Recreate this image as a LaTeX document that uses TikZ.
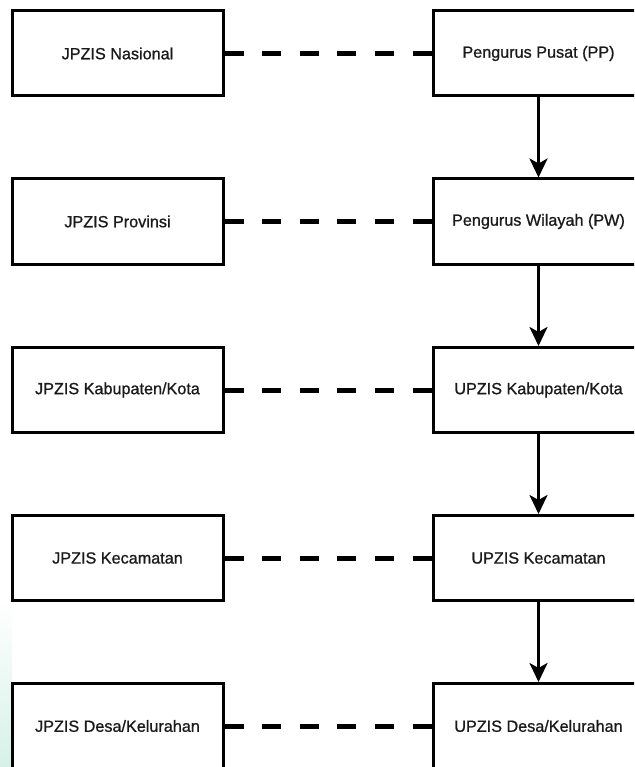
\documentclass[tikz,border=0pt]{standalone}
\usepackage{fontspec}
\setmainfont{Liberation Sans}
\newfontfamily\boxfont[FakeBold=0.9]{Liberation Sans}
\usetikzlibrary{arrows.meta}
\definecolor{txt}{HTML}{1A1A1A}
\definecolor{wmyellow}{HTML}{FAF6D2}
\definecolor{wmcyan}{HTML}{D6F1E8}
\tikzset{
  orgbox/.style={draw=black, fill=white, line width=3pt, rectangle,
    minimum width=211pt, minimum height=85pt, inner sep=0pt,
    text=txt, font=\boxfont\fontsize{16.2}{19}\selectfont},
  dashlink/.style={draw=black, line width=5pt, dash pattern=on 19pt off 18.6pt},
  downarrow/.style={draw=black, line width=3pt,
    -{Stealth[length=19pt,width=18pt,inset=5pt]}}
}
\begin{document}
\begin{tikzpicture}[x=1pt,y=-1pt]
\useasboundingbox (0,0) rectangle (634,767);
\clip (0,0) rectangle (634,767);
\fill[white] (0,0) rectangle (634,767);
% faint watermark at bottom left
\shade[top color=white, middle color=wmyellow, bottom color=wmcyan] (0,600) rectangle (12,767);

% left column
\node[orgbox] (L1) at (117.5,53.5) {JPZIS Nasional};
\node[orgbox] (L2) at (117.5,221.5) {JPZIS Provinsi};
\node[orgbox] (L3) at (117.5,390) {JPZIS Kabupaten/Kota};
\node[orgbox] (L4) at (117.5,558) {JPZIS Kecamatan};
\node[orgbox] (L5) at (117.5,726) {JPZIS Desa/Kelurahan};

% right column
\node[orgbox] (R1) at (538.5,53.5) {Pengurus Pusat (PP)};
\node[orgbox] (R2) at (538.5,221.5) {Pengurus Wilayah (PW)};
\node[orgbox] (R3) at (538.5,390) {UPZIS Kabupaten/Kota};
\node[orgbox] (R4) at (538.5,558) {UPZIS Kecamatan};
\node[orgbox] (R5) at (538.5,726) {UPZIS Desa/Kelurahan};

% dashed links
\foreach \i in {1,...,5}{
  \draw[dashlink] (L\i.east) -- (R\i.west);
}
% vertical arrows
\draw[downarrow] (R1.south) -- (R2.north);
\draw[downarrow] (R2.south) -- (R3.north);
\draw[downarrow] (R3.south) -- (R4.north);
\draw[downarrow] (R4.south) -- (R5.north);
\end{tikzpicture}
\end{document}
